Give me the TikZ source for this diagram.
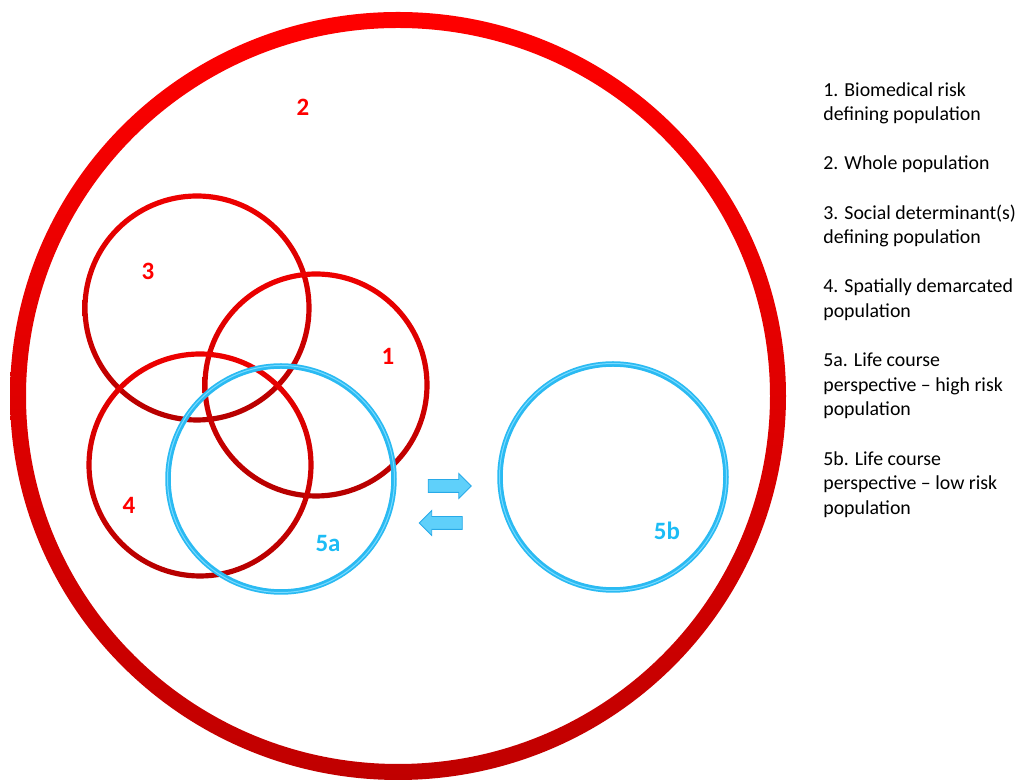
\documentclass[tikz,border=0pt]{standalone}
\usepackage{fontspec}
\setmainfont{Carlito}
\usetikzlibrary{shapes.arrows}
\definecolor{ringred}{RGB}{255,0,0}
\definecolor{ringdark}{RGB}{192,0,0}
\definecolor{circred}{RGB}{238,0,0}
\definecolor{circdark}{RGB}{182,0,0}
\definecolor{lifeblue}{RGB}{42,186,242}
\definecolor{lifelight}{RGB}{120,218,255}
\definecolor{arrowblue}{RGB}{95,208,250}
\definecolor{arrowedge}{RGB}{40,170,232}
\definecolor{labblue}{RGB}{28,188,245}
\tikzset{
  redring/.style={top color=circred, bottom color=circdark, even odd rule},
  bluering/.style={draw=lifeblue, line width=0.11cm},
  numlab/.style={font=\fontsize{14.2}{16}\selectfont\bfseries, inner sep=0pt},
  legend/.style={font=\fontsize{11.3}{13.95}\selectfont, align=left, anchor=base west, inner sep=0pt},
  swaparrow/.style={single arrow, draw=arrowedge, fill=arrowblue, line width=0.5pt,
    text height=0.12cm, text depth=0.12cm, minimum height=0.86cm,
    single arrow head extend=0.12cm, inner sep=0pt}
}

\begin{document}
\begin{tikzpicture}[x=0.02cm, y=0.02cm]
  \useasboundingbox (0,0) rectangle (1025,780);
  % whole population
  \coordinate (whole) at (398,384);
  \shade[top color=ringred, bottom color=ringdark, even odd rule]
    (whole) ellipse [x radius=388, y radius=384]
    (whole) ellipse [x radius=372, y radius=368];
  % overlapping populations
  \coordinate (pop3) at (197,472);
  \coordinate (pop1) at (316,395);
  \coordinate (pop4) at (200,315);
  \coordinate (pop5a) at (281,301);
  \coordinate (pop5b) at (613,303);
  \foreach \c/\r in {pop3/112,pop1/111,pop4/111} {
    \shade[redring] (\c) circle [radius=\r+2.6] (\c) circle [radius=\r-2.6];
  }
  \foreach \c in {pop5a,pop5b} {
    \draw[bluering] (\c) circle [radius=113];
    \draw[lifelight, line width=0.02cm] (\c) circle [radius=113.5];
  }
  % arrows between 5a and 5b
  \node[swaparrow] (toright) at (446.5,294) {};
  \node[swaparrow, shape border rotate=180] (toleft) at (444,257) {};
  % numbers
  \node[numlab, text=ringred] (n2) at (303,673) {2};
  \node[numlab, text=ringred] (n3) at (148,509) {3};
  \node[numlab, text=ringred] (n1) at (388,424) {1};
  \node[numlab, text=ringred] (n4) at (129,275) {4};
  \node[numlab, text=labblue] (n5a) at (328,236) {5a};
  \node[numlab, text=labblue] (n5b) at (667,249) {5b};
  % legend (anchored on the baseline of each last line)
  \node[legend] (leg1) at (823,659.4) {1. Biomedical risk\\defining population};
  \node[legend] (leg2) at (823,610) {2. Whole population};
  \node[legend] (leg3) at (823,536.4) {3. Social determinant(s)\\defining population};
  \node[legend] (leg4) at (823,462.6) {4. Spatially demarcated\\population};
  \node[legend] (leg5a) at (823,364) {5a. Life course\\perspective -- high risk\\population};
  \node[legend] (leg5b) at (823,265.8) {5b. Life course\\perspective -- low risk\\population};
\end{tikzpicture}
\end{document}
